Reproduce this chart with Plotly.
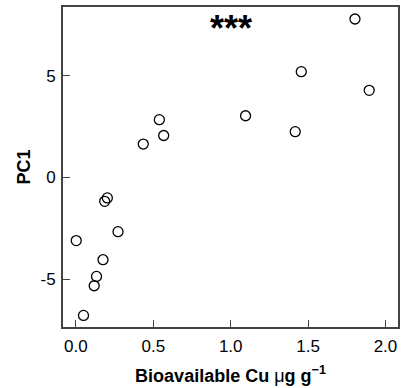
import plotly.graph_objects as go

# Data
cu = [1.803, 1.456, 1.895, 1.096, 1.417, 0.539, 0.567, 0.435,
      0.203, 0.186, 0.272, 0.002, 0.175, 0.133, 0.118, 0.049]
pc1 = [7.79, 5.20, 4.28, 3.03, 2.25, 2.84, 2.06, 1.64,
       -1.01, -1.18, -2.67, -3.11, -4.05, -4.87, -5.33, -6.79]
x_ticks = [0.0, 0.5, 1.0, 1.5, 2.0]
x_tick_labels = ["0.0", "0.5", "1.0", "1.5", "2.0"]
y_ticks = [-5, 0, 5]
y_tick_labels = ["-5", "0", "5"]
significance = "***"

FONT = "Liberation Sans, Arial, Helvetica, sans-serif"
FRAME = "#444444"

fig = go.Figure()
fig.add_trace(go.Scatter(
    x=cu, y=pc1, mode="markers",
    marker=dict(symbol="circle-open", size=10, color="black",
                line=dict(width=1.3, color="black")),
    showlegend=False, hoverinfo="skip",
))

fig.add_annotation(
    x=1.0, y=7.3, xref="x", yref="y", text=significance,
    showarrow=False, font=dict(family=FONT, size=36, color="black", weight="bold"),
    xanchor="center", yanchor="middle",
)

fig.update_layout(
    width=405, height=388,
    margin=dict(l=63, r=5, t=7, b=61),
    paper_bgcolor="white", plot_bgcolor="white",
    font=dict(family=FONT, color="black"),
    xaxis=dict(
        range=[-0.0835, 2.081], tickvals=x_ticks, ticktext=x_tick_labels,
        ticks="inside", ticklen=7, tickwidth=1.3, tickcolor=FRAME,
        showline=True, linecolor=FRAME, linewidth=2, mirror=True,
        showgrid=False, zeroline=False, ticklabelstandoff=3,
        tickfont=dict(size=17, color="black"),
        title=dict(text="Bioavailable Cu <span style='font-weight:normal'>μ</span>g g<sup>−1</sup>",
                   font=dict(size=18, color="black", weight="bold"), standoff=14),
    ),
    yaxis=dict(
        range=[-7.36, 8.38], tickvals=y_ticks, ticktext=y_tick_labels,
        ticks="inside", ticklen=7, tickwidth=1.3, tickcolor=FRAME,
        showline=True, linecolor=FRAME, linewidth=2, mirror=True,
        showgrid=False, zeroline=False, ticklabelstandoff=2,
        tickfont=dict(size=17, color="black"),
        title=dict(text="PC1", font=dict(size=18, color="black", weight="bold"), standoff=5),
    ),
)

fig.write_html("out.html")
